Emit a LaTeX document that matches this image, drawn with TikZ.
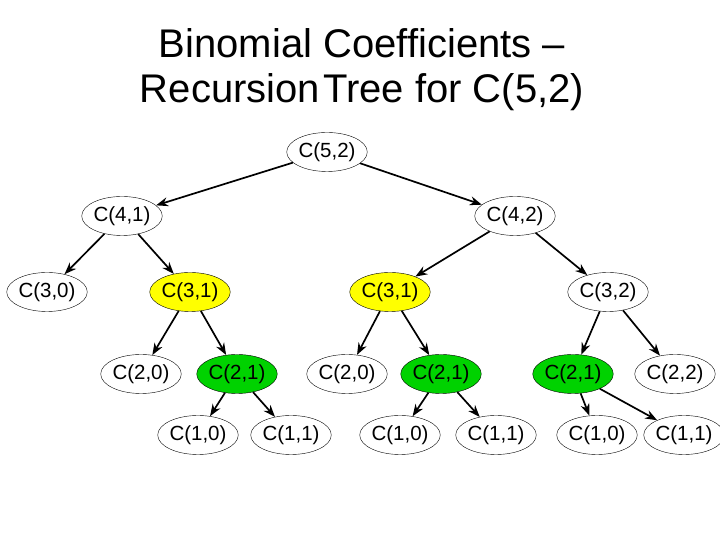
\documentclass[tikz,border=0pt]{standalone}
\usepackage{fontspec}
\setmainfont{Liberation Sans}
\usetikzlibrary{shapes.geometric,arrows.meta}

\definecolor{callyellow}{RGB}{255,255,0}
\definecolor{callgreen}{RGB}{0,210,0}

\tikzset{
  call/.style={ellipse,draw,thin,fill=white,minimum width=80pt,minimum height=39pt,
    inner sep=0pt,font=\fontsize{20.5}{24}\selectfont},
  again/.style={call,fill=callyellow},
  twice/.style={call,fill=callgreen},
  edge/.style={-{Stealth[length=12pt,width=9pt]},line width=1.7pt}
}

\begin{document}
\begin{tikzpicture}[x=1pt,y=1pt]
  \useasboundingbox (0,0) rectangle (720,540);

  \node (Title) [align=center,font=\fontsize{40}{45}\selectfont] at (362,470)
    {Binomial Coefficients --\\Recursion\hspace{0.08em}Tree for C(5,2)};

  \node (C52) [call] at (327,388) {C(5,2)};

  \node (C41) [call] at (122,324) {C(4,1)};
  \node (C42) [call] at (515,324) {C(4,2)};

  \node (C30) [call] at (47,248) {C(3,0)};
  \node (C31a) [again] at (190,248) {C(3,1)};
  \node (C31b) [again] at (390,248) {C(3,1)};
  \node (C32) [call] at (608,248) {C(3,2)};

  \node (C20a) [call] at (141,166) {C(2,0)};
  \node (C21a) [twice] at (237,166) {C(2,1)};
  \node (C20b) [call] at (347,166) {C(2,0)};
  \node (C21b) [twice] at (441,166) {C(2,1)};
  \node (C21c) [twice] at (573,166) {C(2,1)};
  \node (C22) [call] at (675,166) {C(2,2)};

  \node (C10a) [call] at (198,105) {C(1,0)};
  \node (C11a) [call] at (291,105) {C(1,1)};
  \node (C10b) [call] at (400,105) {C(1,0)};
  \node (C11b) [call] at (496,105) {C(1,1)};
  \node (C10c) [call] at (597,105) {C(1,0)};
  \node (C11c) [call] at (684,105) {C(1,1)};

  \draw[edge] (C52) -- (C41);
  \draw[edge] (C52) -- (C42);
  \draw[edge] (C41) -- (C30);
  \draw[edge] (C41) -- (C31a);
  \draw[edge] (C42) -- (C31b);
  \draw[edge] (C42) -- (C32);
  \draw[edge] (C31a) -- (C20a);
  \draw[edge] (C31a) -- (C21a);
  \draw[edge] (C31b) -- (C20b);
  \draw[edge] (C31b) -- (C21b);
  \draw[edge] (C32) -- (C21c);
  \draw[edge] (C32) -- (C22);
  \draw[edge] (C21a) -- (C10a);
  \draw[edge] (C21a) -- (C11a);
  \draw[edge] (C21b) -- (C10b);
  \draw[edge] (C21b) -- (C11b);
  \draw[edge] (C21c) -- (C10c);
  \draw[edge] (C21c) -- (C11c);

\end{tikzpicture}
\end{document}
